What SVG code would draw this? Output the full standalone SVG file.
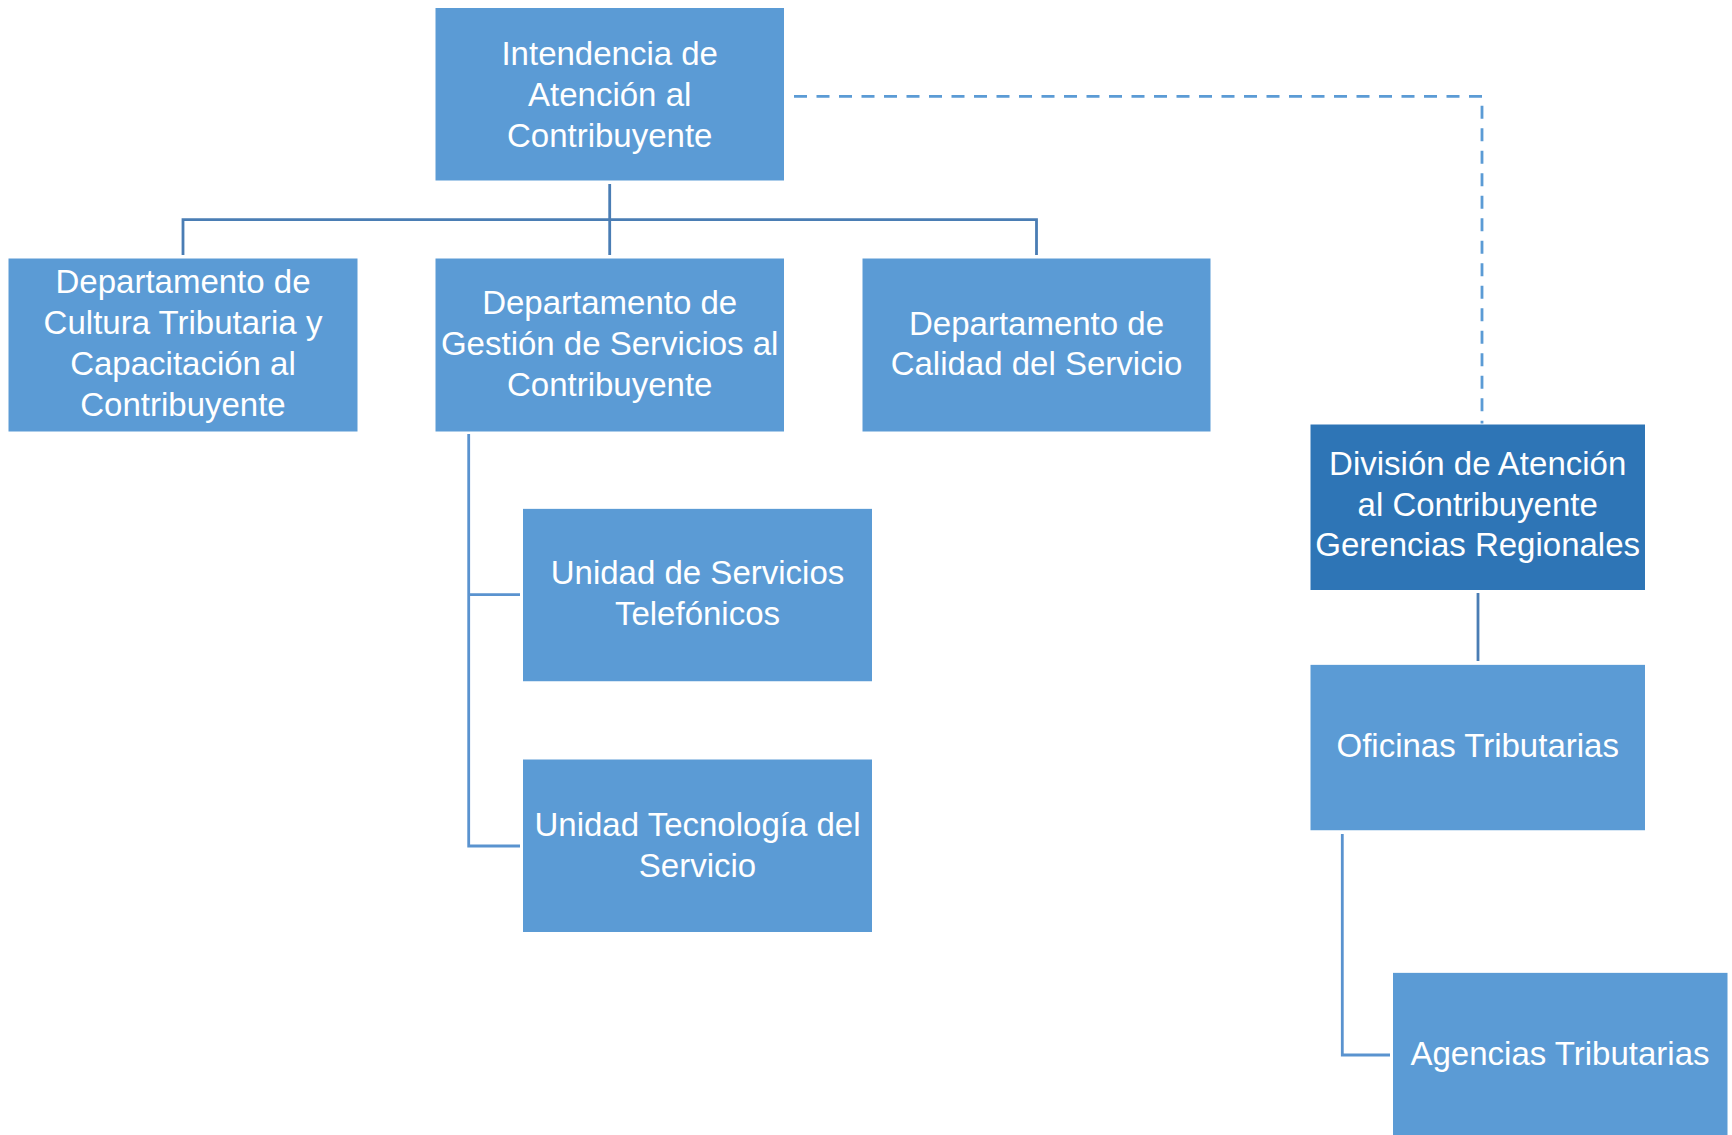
<svg xmlns="http://www.w3.org/2000/svg" width="1732" height="1135" viewBox="0 0 1732 1135">
<style>
.box{fill:#5B9BD5;stroke:#ffffff;stroke-width:1}
.dark{fill:#2E75B6;stroke:#ffffff;stroke-width:1}
.t{font-family:"Liberation Sans",Arial,sans-serif;font-size:33px;fill:#ffffff;text-anchor:middle}
.c1{fill:none;stroke:#4A7DB4;stroke-width:2.8}
.c2{fill:none;stroke:#5A93CF;stroke-width:2.8}
.dash{fill:none;stroke:#5B9BD5;stroke-width:2.8;stroke-dasharray:13 9.5}
</style>
<rect width="1732" height="1135" fill="#ffffff"/>
<g id="connectors">
<path class="c1" d="M609.7 184 V255 M183 255 V219.7 H1036.5 V255"/>
<path class="c2" d="M468.7 434 V846 H520 M468.7 594.7 H520"/>
<path class="c1" d="M1478 593 V661"/>
<path class="c2" d="M1342.3 834 V1055 H1390"/>
<path class="dash" d="M794 96.3 H1482 V429"/>
</g>
<g id="intendencia">
<rect class="box" x="435" y="7.5" width="349.5" height="173.5"/>
<text class="t" x="609.7" y="65">Intendencia de</text>
<text class="t" x="609.7" y="106">Atención al</text>
<text class="t" x="609.7" y="147">Contribuyente</text>
</g>
<g id="dep-cultura">
<rect class="box" x="8" y="258" width="350" height="174"/>
<text class="t" x="183" y="293">Departamento de</text>
<text class="t" x="183" y="334">Cultura Tributaria y</text>
<text class="t" x="183" y="375">Capacitación al</text>
<text class="t" x="183" y="416">Contribuyente</text>
</g>
<g id="dep-gestion">
<rect class="box" x="435" y="258" width="349.5" height="174"/>
<text class="t" x="609.7" y="314">Departamento de</text>
<text class="t" x="609.7" y="355">Gestión de Servicios al</text>
<text class="t" x="609.7" y="396">Contribuyente</text>
</g>
<g id="dep-calidad">
<rect class="box" x="862" y="258" width="349" height="174"/>
<text class="t" x="1036.5" y="335">Departamento de</text>
<text class="t" x="1036.5" y="375">Calidad del Servicio</text>
</g>
<g id="unidad-telefonicos">
<rect class="box" x="522.5" y="508.3" width="350" height="173.5"/>
<text class="t" x="697.5" y="584">Unidad de Servicios</text>
<text class="t" x="697.5" y="625">Telefónicos</text>
</g>
<g id="unidad-tecnologia">
<rect class="box" x="522.5" y="759" width="350" height="173.5"/>
<text class="t" x="697.5" y="836">Unidad Tecnología del</text>
<text class="t" x="697.5" y="877">Servicio</text>
</g>
<g id="division">
<rect class="dark" x="1310" y="424" width="335.5" height="166.5"/>
<text class="t" x="1477.7" y="475">División de Atención</text>
<text class="t" x="1477.7" y="516">al Contribuyente</text>
<text class="t" x="1477.7" y="556">Gerencias Regionales</text>
</g>
<g id="oficinas">
<rect class="box" x="1310" y="664.3" width="335.5" height="166.5"/>
<text class="t" x="1477.7" y="757">Oficinas Tributarias</text>
</g>
<g id="agencias">
<rect class="box" x="1392.5" y="972.3" width="335.5" height="166.5"/>
<text class="t" x="1560" y="1065">Agencias Tributarias</text>
</g>
</svg>
